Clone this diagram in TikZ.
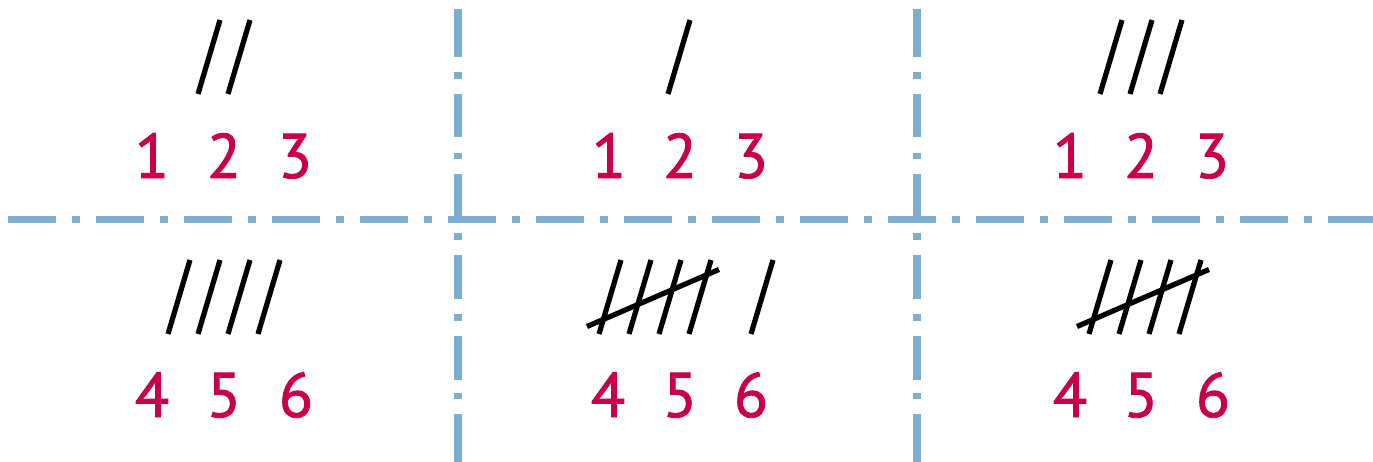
\documentclass[tikz,border=0pt]{standalone}
\usepackage{fontspec}
\setmainfont{PT Sans}
\newfontfamily\numfont[FakeBold=1.3]{PT Sans}
\definecolor{guideblue}{RGB}{126,174,205}
\definecolor{numred}{RGB}{200,0,74}
\begin{document}
\begin{tikzpicture}[x=1pt,y=-1pt,
  num/.style={text=numred, font=\fontsize{63}{63}\numfont, inner sep=0pt, anchor=base},
  tally/.style={line width=5.2pt, black},
  guide/.style={line width=7.5pt, color=guideblue},
  hguide/.style={guide, dash pattern=on 48pt off 16pt on 8pt off 16pt},
  vguide/.style={guide, dash pattern=on 48pt off 15pt on 7pt off 15pt on 43pt off 16pt on 6pt off 15pt on 43pt off 16pt on 7pt off 15pt on 44pt off 15pt on 7pt off 15pt on 44pt off 13pt on 6pt off 15pt on 48pt off 20pt}]
\useasboundingbox (0,0) rectangle (1373,462);
% guide lines
\coordinate (hl) at (8,219.5);
\coordinate (hr) at (1373,219.5);
\coordinate (v1t) at (458,9);
\coordinate (v1b) at (458,462);
\coordinate (v2t) at (917,9);
\coordinate (v2b) at (917,462);
\draw[hguide] (hl) -- (hr);
\draw[vguide] (v1t) -- (v1b);
\draw[vguide] (v2t) -- (v2b);
% numbers, column 1
\node[num] (a1) at (152,178) {1};
\node[num] (a2) at (224,178) {2};
\node[num] (a3) at (295,178) {3};
\node[num] (a4) at (152,417) {4};
\node[num] (a5) at (224,417) {5};
\node[num] (a6) at (296,417) {6};
% numbers, column 2
\node[num] (b1) at (609,178) {1};
\node[num] (b2) at (680,178) {2};
\node[num] (b3) at (751,178) {3};
\node[num] (b4) at (608,417) {4};
\node[num] (b5) at (680,417) {5};
\node[num] (b6) at (751,417) {6};
% numbers, column 3
\node[num] (c1) at (1070,178) {1};
\node[num] (c2) at (1141,178) {2};
\node[num] (c3) at (1212,178) {3};
\node[num] (c4) at (1070,417) {4};
\node[num] (c5) at (1141,417) {5};
\node[num] (c6) at (1213,417) {6};
% tallies, top row
\foreach \bx in {198,228} \draw[tally] (\bx,94) -- ++(22,-74);
\draw[tally] (668,94) -- ++(22,-74);
\foreach \bx in {1100,1130,1160} \draw[tally] (\bx,94) -- ++(22,-74);
% tallies, bottom row
\foreach \bx in {168,198,228,258} \draw[tally] (\bx,334) -- ++(22,-74);
\foreach \bx in {599,629,659,689} \draw[tally] (\bx,334) -- ++(22,-74);
\draw[tally] (587,326.5) -- (719,269.5);
\draw[tally] (751,334) -- ++(22,-74);
\foreach \bx in {1089,1119,1149,1179} \draw[tally] (\bx,334) -- ++(22,-74);
\draw[tally] (1077,326.5) -- (1209,269.5);
\end{tikzpicture}
\end{document}
